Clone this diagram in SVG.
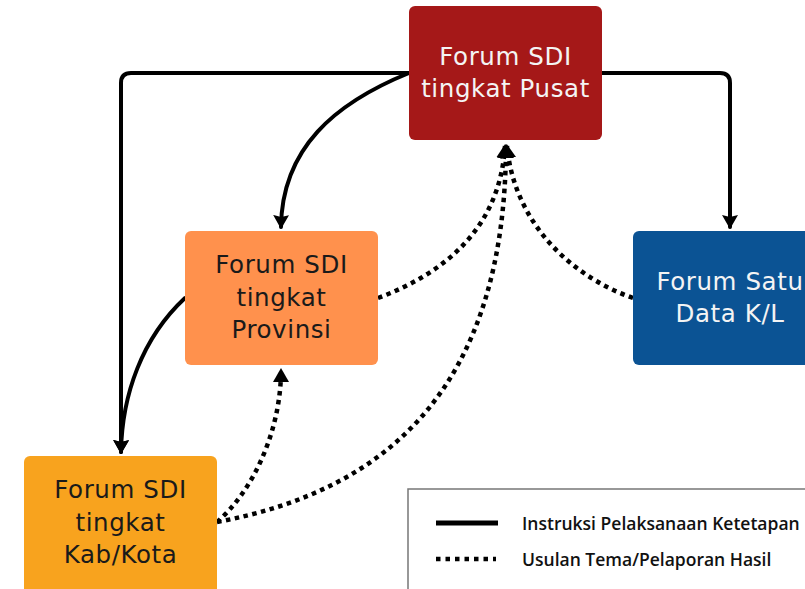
<svg xmlns="http://www.w3.org/2000/svg" width="805" height="589" viewBox="0 0 805 589">
<defs>
<style>
.box-text{font-family:"DejaVu Sans","Open Sans",sans-serif;font-size:24.5px;text-anchor:middle;letter-spacing:0.6px}
.light{fill:#f4f4f4}
.dark{fill:#1a1a1a}
.solid{fill:none;stroke:#000;stroke-width:4;stroke-linecap:round;stroke-linejoin:round}
.dotted{fill:none;stroke:#000;stroke-width:4.5;stroke-dasharray:4.5 4.5}
.legend-text{font-family:"Open Sans","Liberation Sans",sans-serif;font-weight:600;font-size:17.5px;fill:#111}
</style>
<marker id="arr" viewBox="0 0 14 16" refX="12" refY="8" markerWidth="14" markerHeight="16" markerUnits="userSpaceOnUse" orient="auto">
<path d="M0,0 L14,8 L0,16 L2,8 z" fill="#000"/>
</marker>
<marker id="arrd" viewBox="0 0 14 16" refX="12" refY="8" markerWidth="14" markerHeight="16" markerUnits="userSpaceOnUse" orient="auto">
<path d="M0,0 L14,8 L0,16 z" fill="#000"/>
</marker>
</defs>
<rect width="805" height="589" fill="#fff"/>

<g id="connectors">
<path class="solid" d="M409,73 H131 Q121,73 121,83 V452" marker-end="url(#arr)"/>
<path class="solid" d="M409,73 C335,103 282,148 281,227" marker-end="url(#arr)"/>
<path class="solid" d="M602,73 H720 Q730,73 730,83 V227" marker-end="url(#arr)"/>
<path class="solid" d="M185,298 C142,338 122,395 121,452" marker-end="url(#arr)"/>
<path class="dotted" d="M217,522 C252,492 281,432 281,370" marker-end="url(#arrd)"/>
<path class="dotted" d="M217,522 C390,490 505,385 506,146" marker-end="url(#arrd)"/>
<path class="dotted" d="M378,298 C445,273 500,228 505,146" marker-end="url(#arrd)"/>
<path class="dotted" d="M633,298 C570,276 514,222 507,146" marker-end="url(#arrd)"/>
</g>

<g id="node-pusat">
<rect x="409" y="6" width="193" height="134" rx="6" fill="#A51818"/>
<text class="box-text light" x="505.5" y="65">Forum SDI</text>
<text class="box-text light" x="505.5" y="97">tingkat Pusat</text>
</g>

<g id="node-provinsi">
<rect x="185" y="231" width="193" height="134" rx="6" fill="#FF914D"/>
<text class="box-text dark" x="281.5" y="273">Forum SDI</text>
<text class="box-text dark" x="281.5" y="306">tingkat</text>
<text class="box-text dark" x="281.5" y="338">Provinsi</text>
</g>

<g id="node-kabkota">
<rect x="24" y="456" width="193" height="140" rx="6" fill="#F8A31E"/>
<text class="box-text dark" x="120.5" y="498">Forum SDI</text>
<text class="box-text dark" x="120.5" y="531">tingkat</text>
<text class="box-text dark" x="120.5" y="563">Kab/Kota</text>
</g>

<g id="node-satudata">
<rect x="633" y="231" width="193" height="134" rx="6" fill="#0B5394"/>
<text class="box-text light" x="730" y="290">Forum Satu</text>
<text class="box-text light" x="730" y="322">Data K/L</text>
</g>

<g id="legend">
<rect x="408" y="489" width="420" height="120" fill="#fff" stroke="#777" stroke-width="1.5"/>
<line x1="436" y1="523" x2="498" y2="523" stroke="#000" stroke-width="5"/>
<line x1="436" y1="559" x2="496" y2="559" stroke="#000" stroke-width="4.5" stroke-dasharray="4.5 5"/>
<text class="legend-text" x="522" y="530">Instruksi Pelaksanaan Ketetapan</text>
<text class="legend-text" x="522" y="566">Usulan Tema/Pelaporan Hasil</text>
</g>
</svg>
